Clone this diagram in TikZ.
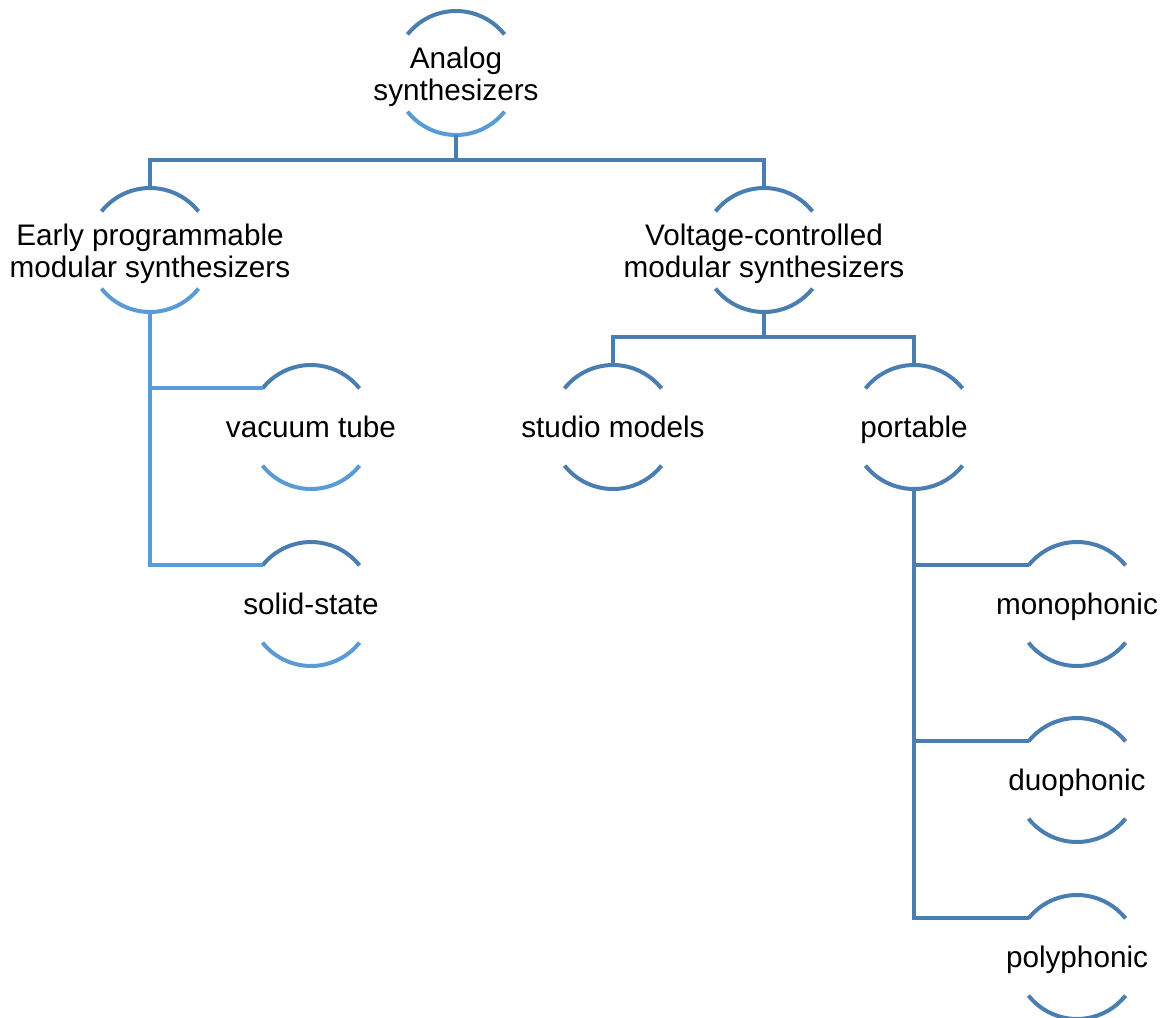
\documentclass[tikz,border=0pt]{standalone}
\usepackage{fontspec}
\setmainfont{Liberation Sans}
\definecolor{dark}{RGB}{74,126,177}
\definecolor{light}{RGB}{91,155,213}
\tikzset{
  bub/.style={inner sep=0pt, align=center,
    font=\fontsize{29.7}{32}\selectfont},
  bub1/.style={bub, text height=21pt, text depth=0pt},
  bub2/.style={bub, yshift=-3.5pt},
  wire/.style={line width=4pt},
  tree/.style={to path={-- ++(0,25) -| (\tikztotarget)}}
}
% arcs round a node, with coordinates <name>-n, <name>-s, <name>-w
\newcommand\bubble[3]{%
  \path (#1.center) ++(0,-62) coordinate (#1-n)
        (#1.center) ++(0,62) coordinate (#1-s)
        (#1.center) ++(-48.5,-38.6) coordinate (#1-w);
  \draw[wire, #2] (#1-w) arc[start angle=141.5, end angle=38.5, radius=62pt];
  \draw[wire, #3] (#1.center) ++(-48.5,38.6) arc[start angle=218.5, end angle=321.5, radius=62pt];}
\begin{document}
\begin{tikzpicture}[x=1pt, y=-1pt]
  \useasboundingbox (0,0) rectangle (1163,1018);
  \draw
    (456,73) coordinate (root) node[bub2] (root-t){Analog\\synthesizers}
    (150,250) coordinate (early) node[bub2] (early-t){Early programmable\\modular synthesizers}
    (764,250) coordinate (volt) node[bub2] (volt-t){Voltage-controlled\\modular synthesizers}
    (311,427) node[bub1] (vac){vacuum tube}
    (311,604) node[bub1] (solid){solid-state}
    (613,427) node[bub1] (studio){studio models}
    (914,427) node[bub1] (port){portable}
    (1077,604) node[bub1] (mono){monophonic}
    (1077,780) node[bub1] (duo){duophonic}
    (1077,957) node[bub1] (poly){polyphonic};
  \bubble{root}{dark}{light}
  \bubble{early}{dark}{light}
  \bubble{volt}{dark}{dark}
  \bubble{vac}{dark}{light}
  \bubble{solid}{dark}{light}
  \bubble{studio}{dark}{dark}
  \bubble{port}{dark}{dark}
  \bubble{mono}{dark}{dark}
  \bubble{duo}{dark}{dark}
  \bubble{poly}{dark}{dark}
  \begin{scope}[wire, dark]
    \draw (root-s) to[tree] (early-n);
    \draw (root-s) to[tree] (volt-n);
    \draw (volt-s) to[tree] (studio-n);
    \draw (volt-s) to[tree] (port-n);
    \draw (port-s) |- (mono-w);
    \draw (port-s) |- (duo-w);
    \draw (port-s) |- (poly-w);
  \end{scope}
  \begin{scope}[wire, light]
    \draw (early-s) |- (vac-w);
    \draw (early-s) |- (solid-w);
  \end{scope}
\end{tikzpicture}
\end{document}
